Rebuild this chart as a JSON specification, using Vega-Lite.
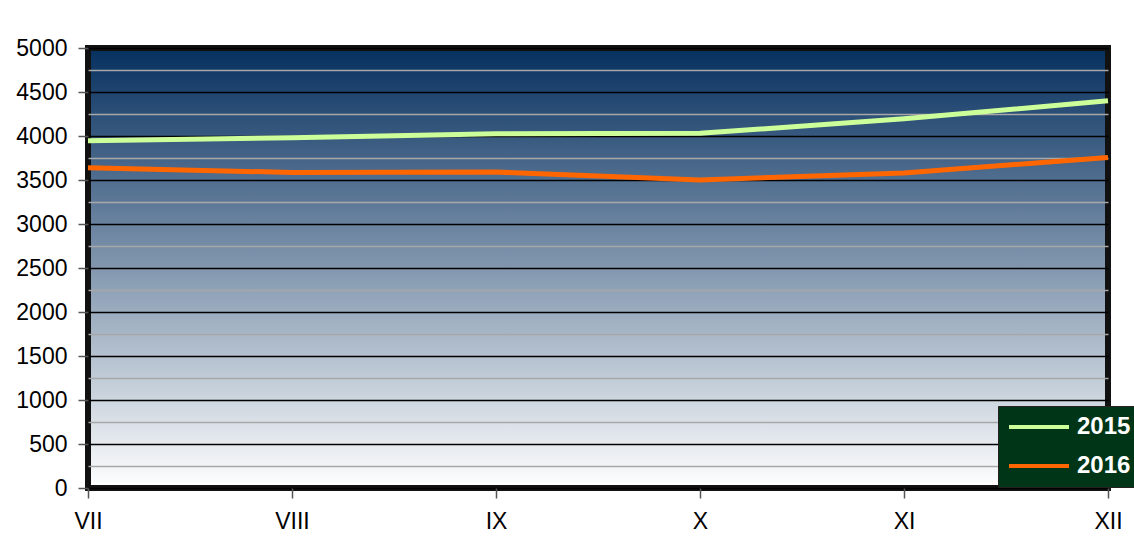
{
  "$schema": "https://vega.github.io/schema/vega-lite/v6.json",
  "autosize": {"type": "none"},
  "padding": {"left": 88, "top": 48, "right": 26, "bottom": 55},
  "width": 1020,
  "height": 440,
  "background": "white",
  "data": {
    "values": [
      {"month": "VII", "year": "2015", "value": 3945},
      {"month": "VIII", "year": "2015", "value": 3980},
      {"month": "IX", "year": "2015", "value": 4025},
      {"month": "X", "year": "2015", "value": 4030},
      {"month": "XI", "year": "2015", "value": 4195},
      {"month": "XII", "year": "2015", "value": 4400},
      {"month": "VII", "year": "2016", "value": 3640},
      {"month": "VIII", "year": "2016", "value": 3585},
      {"month": "IX", "year": "2016", "value": 3590},
      {"month": "X", "year": "2016", "value": 3500},
      {"month": "XI", "year": "2016", "value": 3580},
      {"month": "XII", "year": "2016", "value": 3755}
    ]
  },
  "view": {
    "fill": {
      "gradient": "linear",
      "x1": 0, "y1": 0, "x2": 0, "y2": 1,
      "stops": [
        {"offset": 0, "color": "#06305f"},
        {"offset": 1, "color": "#ffffff"}
      ]
    },
    "stroke": "#111111",
    "strokeWidth": 6
  },
  "mark": {"type": "line", "strokeWidth": 5, "strokeCap": "butt", "strokeJoin": "round"},
  "encoding": {
    "x": {
      "field": "month",
      "type": "ordinal",
      "sort": ["VII", "VIII", "IX", "X", "XI", "XII"],
      "scale": {"type": "point", "padding": 0},
      "axis": {
        "title": null,
        "domain": false,
        "grid": false,
        "ticks": true,
        "tickSize": 10,
        "tickColor": "#555555",
        "tickWidth": 1.5,
        "labelAngle": 0,
        "labelPadding": 12,
        "labelFont": "Liberation Sans",
        "labelFontSize": 23,
        "labelColor": "#000000"
      }
    },
    "y": {
      "field": "value",
      "type": "quantitative",
      "scale": {"domain": [0, 5000], "nice": false, "zero": true},
      "axis": {
        "title": null,
        "domain": false,
        "values": [0, 250, 500, 750, 1000, 1250, 1500, 1750, 2000, 2250, 2500, 2750, 3000, 3250, 3500, 3750, 4000, 4250, 4500, 4750, 5000],
        "labelExpr": "datum.value % 500 === 0 ? datum.label : ''",
        "format": "d",
        "grid": true,
        "gridColor": {"condition": {"test": "datum.value % 500 === 0", "value": "#000000"}, "value": "#a8a8a8"},
        "gridWidth": 1.5,
        "tickSize": 10,
        "tickColor": "#555555",
        "tickWidth": 1.5,
        "tickOpacity": {"condition": {"test": "datum.value % 500 === 0", "value": 1}, "value": 0},
        "labelPadding": 11,
        "labelFont": "Liberation Sans",
        "labelFontSize": 23,
        "labelColor": "#000000"
      }
    },
    "color": {
      "field": "year",
      "type": "nominal",
      "scale": {"domain": ["2015", "2016"], "range": ["#ccff99", "#ff6600"]},
      "legend": {
        "title": null,
        "orient": "none",
        "legendX": 910,
        "legendY": 358,
        "fillColor": "#003518",
        "strokeColor": "#222222",
        "padding": 9,
        "symbolType": "M-1,0L5,0",
        "symbolSize": 400,
        "symbolStrokeWidth": 4,
        "labelOffset": 46,
        "rowPadding": 15,
        "labelFont": "Liberation Sans",
        "labelFontSize": 24,
        "labelFontWeight": "bold",
        "labelColor": "#ffffff"
      }
    }
  }
}
